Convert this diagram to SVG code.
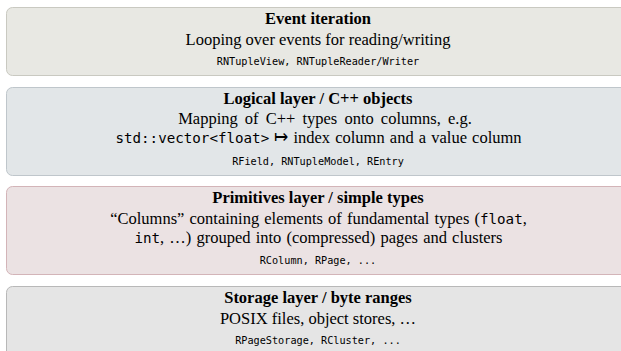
<svg xmlns="http://www.w3.org/2000/svg" width="621" height="351" viewBox="0 0 621 351">
<style>
.box{stroke-width:1}
.t{font-family:"Liberation Serif","Times New Roman",serif;font-size:16.5px;fill:#000;text-anchor:middle}
.b{font-weight:bold}
.tt{font-family:"DejaVu Sans Mono","Liberation Mono",monospace;font-size:14.2px}
.code{font-family:"DejaVu Sans Mono","Liberation Mono",monospace;font-size:10.2px;fill:#000;text-anchor:middle}
</style>
<rect width="621" height="351" fill="#ffffff"/>
<g id="event">
<rect class="box" x="6.5" y="7.5" width="630" height="68" rx="6" fill="#e8e8e3" stroke="#c9c9c1"/>
<text class="t b" x="318" y="24">Event iteration</text>
<text class="t" x="318" y="45">Looping over events for reading/writing</text>
<text class="code" x="318" y="65">RNTupleView, RNTupleReader/Writer</text>
</g>
<g id="logical">
<rect class="box" x="6.5" y="87.5" width="630" height="88" rx="6" fill="#e2e6e8" stroke="#bfc6cb"/>
<text class="t b" x="318" y="104">Logical layer / C++ objects</text>
<text class="t" x="325" y="124" word-spacing="3">Mapping of C++ types onto columns, e.g.</text>
<text class="t" x="318.5" y="143" word-spacing="1"><tspan class="tt">std::vector&lt;float&gt;</tspan> ↦ index column and a value column</text>
<text class="code" x="318" y="165">RField, RNTupleModel, REntry</text>
</g>
<g id="primitives">
<rect class="box" x="6.5" y="186.5" width="630" height="88" rx="6" fill="#ebe2e3" stroke="#d3b4b8"/>
<text class="t b" x="318" y="203">Primitives layer / simple types</text>
<text class="t" x="318.5" y="224" word-spacing="1">“Columns” containing elements of fundamental types (<tspan class="tt">float</tspan>,</text>
<text class="t" x="318.5" y="243" word-spacing="1"><tspan class="tt">int</tspan>, …) grouped into (compressed) pages and clusters</text>
<text class="code" x="318" y="264">RColumn, RPage, ...</text>
</g>
<g id="storage">
<rect class="box" x="6.5" y="286.5" width="630" height="80" rx="6" fill="#e5e5e5" stroke="#b8b8b8"/>
<text class="t b" x="318" y="303">Storage layer / byte ranges</text>
<text class="t" x="318" y="324">POSIX files, object stores, …</text>
<text class="code" x="318" y="344">RPageStorage, RCluster, ...</text>
</g>
<g id="connectors"></g>
</svg>
